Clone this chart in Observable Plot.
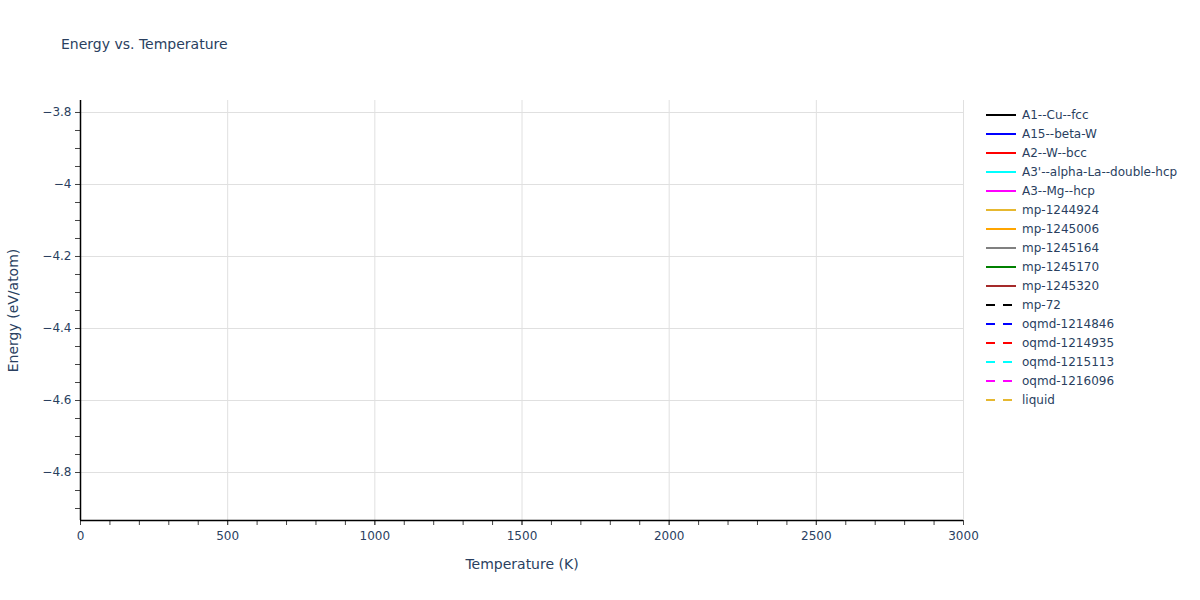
<!DOCTYPE html>
<html>
<head>
<meta charset="utf-8">
<script src="https://cdn.jsdelivr.net/npm/d3@7"></script>
<script src="https://cdn.jsdelivr.net/npm/@observablehq/plot@0.6"></script>
<style>
  body { margin: 0; background: #fff; font-family: "DejaVu Sans", Verdana, Arial, sans-serif; }
  #wrap { position: relative; width: 1200px; height: 600px; }
  #title { position: absolute; left: 61px; top: 36px; font-size: 14px; color: #2a3f5f; }
  #legend { position: absolute; left: 984px; top: 105px; font-size: 12px; color: #2a3f5f; }
  .item { height: 19px; display: flex; align-items: center; white-space: nowrap; }
  .item svg { margin-right: 4px; }
</style>
</head>
<body>
<div id="wrap">
  <div id="chart"></div>
  <div id="title">Energy vs. Temperature</div>
  <div id="legend"></div>
</div>
<script>
// Series shown in the legend (no data points are visible in the plotted range)
const seriesNames = ["A1--Cu--fcc","A15--beta-W","A2--W--bcc","A3'--alpha-La--double-hcp","A3--Mg--hcp",
  "mp-1244924","mp-1245006","mp-1245164","mp-1245170","mp-1245320",
  "mp-72","oqmd-1214846","oqmd-1214935","oqmd-1215113","oqmd-1216096","liquid"];
const seriesColors = ["#000000","#0000ff","#ff0000","#00ffff","#ff00ff",
  "#e6b830","#ffa500","#808080","#008000","#a52a2a",
  "#000000","#0000ff","#ff0000","#00ffff","#ff00ff","#e6b830"];
const seriesDashed = [false,false,false,false,false,false,false,false,false,false,
  true,true,true,true,true,true];
// temperature / energy values: none fall inside the visible window
const seriesTemps = seriesNames.map(() => []);
const seriesEnergies = seriesNames.map(() => []);

const xTicks = [0, 500, 1000, 1500, 2000, 2500, 3000];
const yTicks = [-3.8, -4, -4.2, -4.4, -4.6, -4.8];
const xMinorTicks = [0,100,200,300,400,500,600,700,800,900,1000,1100,1200,1300,1400,1500,1600,1700,1800,1900,2000,2100,2200,2300,2400,2500,2600,2700,2800,2900,3000];
const yMinorTicks = [-3.8,-3.85,-3.9,-3.95,-4,-4.05,-4.1,-4.15,-4.2,-4.25,-4.3,-4.35,-4.4,-4.45,-4.5,-4.55,-4.6,-4.65,-4.7,-4.75,-4.8,-4.85,-4.9];
const xDomain = [0, 3000];
const yDomain = [-4.9333, -3.7667];

const rows = [];
seriesNames.forEach((n, i) => seriesTemps[i].forEach((t, j) => rows.push({name: n, T: t, E: seriesEnergies[i][j]})));

const fmt = d => (d < 0 ? "\u2212" : "") + Math.abs(d);
const txt = "#2a3f5f";

const chart = Plot.plot({
  width: 1200, height: 600,
  marginLeft: 80, marginRight: 237, marginTop: 100, marginBottom: 80,
  style: {fontFamily: '"DejaVu Sans", Verdana, Arial, sans-serif', fontSize: "12px", color: txt, background: "#fff"},
  x: {domain: xDomain},
  y: {domain: yDomain},
  color: {domain: seriesNames, range: seriesColors},
  marks: [
    Plot.gridX(xTicks.slice(1), {stroke: "#e0e0e0", strokeOpacity: 1, strokeWidth: 1}),
    Plot.gridY(yTicks, {stroke: "#e0e0e0", strokeOpacity: 1, strokeWidth: 1}),
    Plot.axisX(xMinorTicks, {tickSize: 5, tickFormat: () => "", stroke: "#444", label: null}),
    Plot.axisY(yMinorTicks, {tickSize: 5, tickFormat: () => "", stroke: "#444", label: null}),
    Plot.axisX(xTicks, {tickSize: 5, tickPadding: 6, tickFormat: d => String(d), fill: txt, stroke: "#444", fontSize: 12,
      label: "Temperature (K)", labelAnchor: "center", labelArrow: "none", labelOffset: 48}),
    Plot.axisY(yTicks, {tickSize: 5, tickPadding: 4, tickFormat: fmt, fill: txt, stroke: "#444", fontSize: 12,
      label: "Energy (eV/atom)", labelAnchor: "center", labelArrow: "none", labelOffset: 72}),
    Plot.ruleX([xDomain[0]], {stroke: "#000", strokeWidth: 1.5}),
    Plot.ruleY([yDomain[0]], {stroke: "#000", strokeWidth: 1.5}),
    Plot.line(rows, {x: "T", y: "E", z: "name", stroke: "name", strokeWidth: 2,
      strokeDasharray: d => seriesDashed[seriesNames.indexOf(d.name)] ? "8,6" : null})
  ]
});
document.getElementById("chart").appendChild(chart);
// enlarge axis label font
chart.querySelectorAll("g[aria-label='x-axis label'] text, g[aria-label='y-axis label'] text").forEach(t => {
  t.style.fontSize = "14px"; t.setAttribute("fill", txt);
});

const leg = document.getElementById("legend");
seriesNames.forEach((n, i) => {
  const div = document.createElement("div");
  div.className = "item";
  div.innerHTML = `<svg width="34" height="10"><line x1="2" x2="32" y1="5" y2="5" stroke="${seriesColors[i]}" stroke-width="2" ${seriesDashed[i] ? 'stroke-dasharray="9,8"' : ''}/></svg><span>${n}</span>`;
  leg.appendChild(div);
});
</script>
</body>
</html>
